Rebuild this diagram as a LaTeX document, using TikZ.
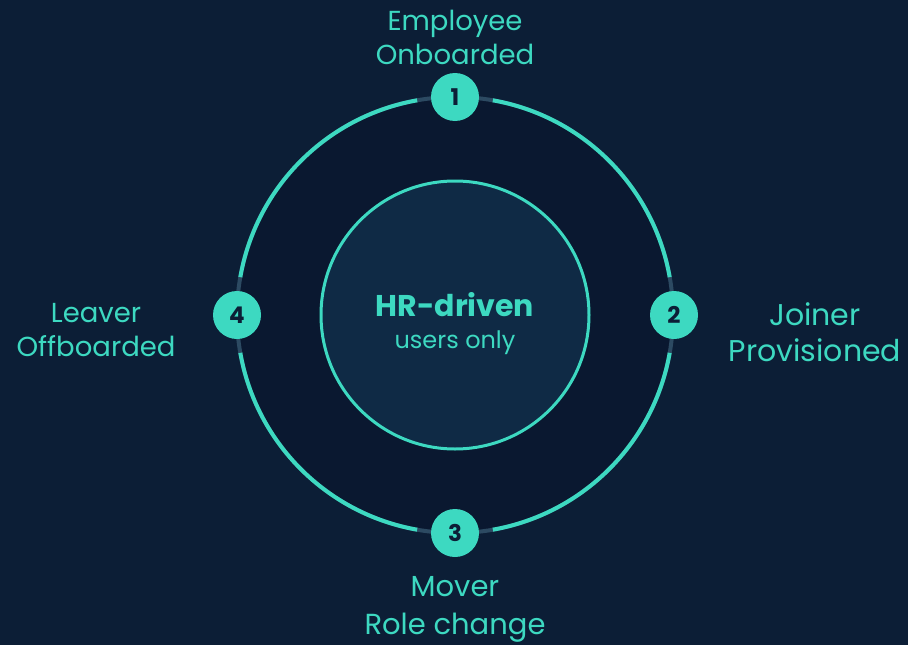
\documentclass[tikz,border=0pt]{standalone}
\usepackage{fontspec}
\setmainfont{Poppins}
\definecolor{bg}{HTML}{0C1E36}
\definecolor{ringbg}{HTML}{0A1830}
\definecolor{innerbg}{HTML}{0F2A45}
\definecolor{teal}{HTML}{3DD9C1}
\definecolor{slate}{HTML}{2C4A62}
\begin{document}
\begin{tikzpicture}[x=1pt,y=-1pt,
  numnode/.style={circle,fill=teal,minimum size=48pt,inner sep=0pt,text=bg,font=\fontsize{23}{23}\selectfont\bfseries},
  lbl/.style={text=teal,align=center,inner sep=0pt,font=\fontsize{27.5}{34}\selectfont},
  ringline/.style={draw=teal,line width=4pt},
  gapline/.style={draw=slate,line width=4pt}]
\fill[bg] (0,0) rectangle (908,645);
\coordinate (c) at (455,315);
\fill[ringbg] (c) circle[radius=218];
\draw[gapline] (c) circle[radius=218];
% teal arcs between nodes (gaps of +-10 deg)
\foreach \a in {0,90,180,270}{
  \draw[ringline] (c) ++(\a+10:218) arc[start angle=\a+10, end angle=\a+80, radius=218];
}
\fill[innerbg,draw=teal,line width=3pt] (c) circle[radius=134];
\node[text=teal,font=\fontsize{30}{30}\selectfont\bfseries] (t1) at (455,305) {HR-driven};
\node[text=teal,font=\fontsize{24}{24}\selectfont] (t2) at (455,343) {users only};
\node[numnode] (n1) at (455,97) {1};
\node[numnode] (n2) at (674,315) {2};
\node[numnode] (n3) at (455,533) {3};
\node[numnode] (n4) at (237,315) {4};
\node[lbl] (l1) at (455,37) {Employee\\Onboarded};
\node[lbl,font=\fontsize{30}{36}\selectfont] (l2) at (815,332) {Joiner\\Provisioned};
\node[lbl,font=\fontsize{29}{38}\selectfont] (l3) at (455,609) {Mover\\Role change};
\node[lbl] (l4) at (96,330) {Leaver\\Offboarded};
\end{tikzpicture}
\end{document}
